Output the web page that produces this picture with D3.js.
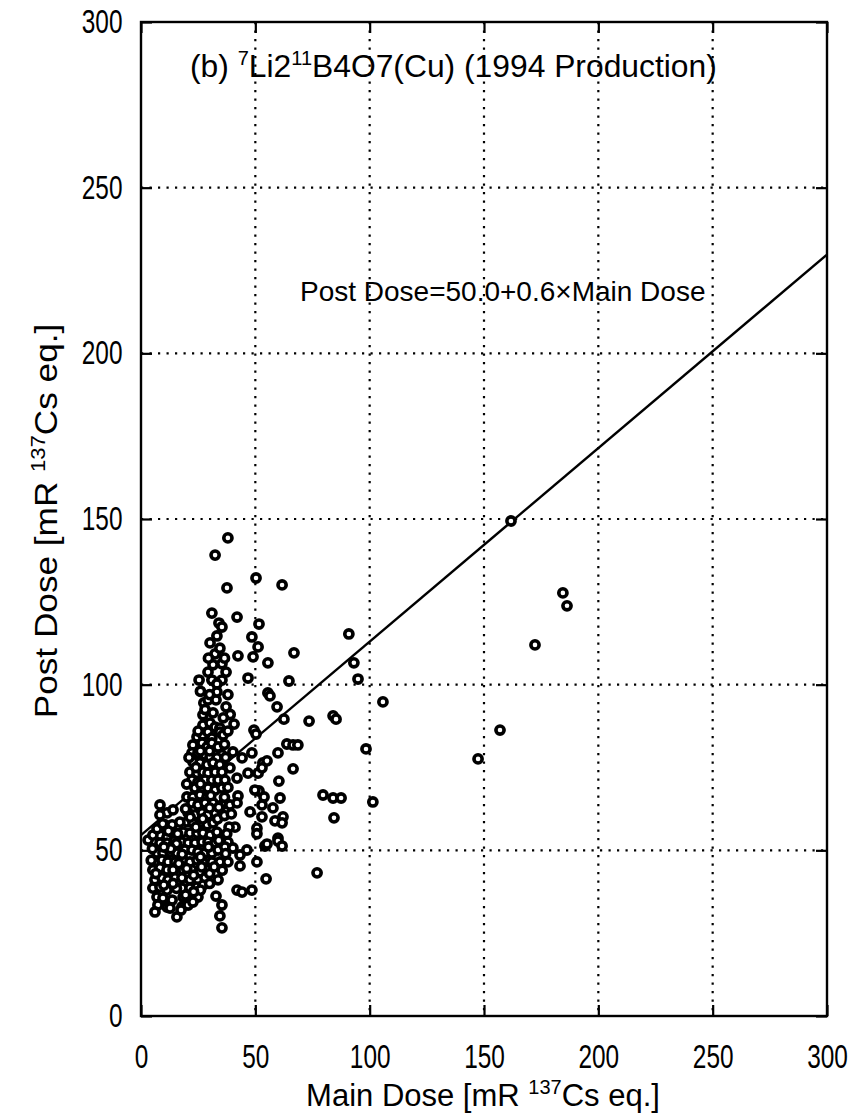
<!DOCTYPE html>
<html><head><meta charset="utf-8">
<script src="https://cdn.jsdelivr.net/npm/d3@7"></script>
<style>
body{margin:0;background:#fff}
svg{display:block}
text{font-family:"Liberation Sans",Arial,sans-serif;fill:#000}
</style>
</head><body>
<svg id="c" width="868" height="1119"></svg>
<script>
const xTicks = [0, 50, 100, 150, 200, 250, 300];
const yTicks = [0, 50, 100, 150, 200, 250, 300];
const fitMain = [0, 300];
const fitPost = [54.6, 229.8];
const equationText = "Post Dose=50.0+0.6\u00D7Main Dose";
// [Main Dose, Post Dose]
const doses = [
[38.0,144.3],[32.4,139.1],[37.6,129.2],[50.3,132.2],[61.7,130.1],[31.0,121.6],[42.0,120.4],[34.1,118.6],[35.4,117.4],[51.6,118.3],
[33.2,114.7],[30.2,112.6],[48.5,114.4],[90.9,115.3],[51.2,111.4],[32.4,109.3],[42.4,108.7],[49.0,108.4],[66.9,109.6],[55.5,106.6],[93.1,106.6],
[31.5,106.0],[35.4,106.3],[29.3,103.8],[37.2,103.8],[31.0,101.4],[35.4,101.4],[33.2,100.2],
[25.4,101.4],[46.8,102.0],[64.7,101.1],[94.9,101.7],[55.5,97.5],[56.4,96.6],[105.8,94.8],
[27.5,94.5],[29.3,95.4],[32.8,95.4],[37.2,93.3],[27.1,90.9],[31.5,91.5],[33.2,97.8],
[59.5,93.3],[62.5,89.6],[73.5,89.0],[84.0,90.6],[85.3,89.6],[40.7,88.1],
[27.1,87.8],[30.2,88.4],[32.4,87.2],[34.5,86.9],[49.4,86.3],[50.3,85.1],
[24.5,84.2],[27.1,84.8],[29.3,85.7],[31.0,83.9],[34.5,85.7],[35.9,84.8],
[63.8,82.1],[66.5,81.8],[68.6,81.8],
[22.7,81.8],[26.7,82.4],[28.9,81.2],[31.0,82.4],[33.7,81.2],
[35.4,78.8],[48.5,79.4],[59.9,79.4],[98.4,80.6],
[22.3,79.4],[24.9,79.4],[28.0,78.8],[30.2,78.2],[33.2,77.9],
[40.2,79.7],[44.2,77.9],[53.3,76.4],[55.1,77.0],
[22.7,76.7],[25.8,76.4],[28.9,75.8],[31.5,76.4],[34.5,75.8],
[38.9,74.9],[51.2,73.3],[52.9,74.9],[66.5,74.6],
[21.4,73.6],[24.5,73.3],[27.1,73.6],[29.3,73.3],[32.4,73.6],[35.4,73.6],
[46.8,73.3],[42.0,71.8],
[22.3,71.2],[24.9,70.6],[28.0,71.2],[31.0,71.2],[33.7,71.2],[36.7,71.2],
[60.3,70.9],
[23.6,68.8],[26.7,68.2],[29.3,68.8],[32.4,68.2],[35.4,68.8],
[51.6,67.9],[53.8,66.1],[79.6,66.7],[42.4,66.4],[84.0,65.8],[87.5,65.8],[60.8,65.8],[101.4,64.6],
[20.1,66.1],[22.7,66.1],[25.8,66.7],[28.9,66.1],
[52.9,63.7],[57.7,62.8],[49.8,68.2],[8.3,63.7],
[22.3,64.3],[24.9,63.7],[28.0,64.3],[31.5,64.3],[35.4,63.7],[38.9,63.7],[42.0,64.3],
[47.7,61.6],[52.9,60.1],[58.6,58.9],[62.1,60.1],[61.7,58.3],[84.4,59.8],
[11.4,61.3],[8.3,60.7],[14.0,62.2],
[20.6,61.3],[23.6,60.7],[26.7,61.3],[29.3,60.7],[32.4,61.3],
[10.5,57.7],[13.6,57.7],
[20.1,58.6],[22.7,58.3],[25.8,58.3],[28.9,57.7],[31.5,58.3],
[41.1,57.0],[50.7,56.7],[50.7,55.0],
[8.3,54.6],[11.4,54.0],[14.0,55.2],
[18.4,55.5],[21.4,55.2],[24.5,55.2],[27.1,55.2],[30.2,54.6],[33.2,55.5],
[59.9,53.7],[3.1,53.1],[5.2,54.6],
[8.3,52.2],[11.4,52.2],[14.0,51.6],
[17.9,52.5],[20.6,52.2],[23.6,52.2],[26.7,52.5],[29.3,52.5],[32.4,52.2],[35.9,53.7],[38.0,52.5],
[54.2,51.3],[55.1,51.9],[59.9,52.8],[61.7,51.3],
[7.0,49.2],[9.6,49.2],[12.7,49.5],[15.7,49.2],
[19.2,50.1],[22.3,50.1],[24.9,49.5],[28.0,49.2],[31.0,49.2],[33.7,50.1],[36.7,51.0],[40.2,50.7],
[46.3,50.1],[43.3,48.6],
[6.1,46.5],[9.2,47.1],[11.8,46.5],[14.9,46.5],
[18.4,47.1],[21.4,46.5],[24.5,47.1],[27.1,46.5],[31.0,46.5],[34.5,46.5],[38.0,46.5],
[50.7,46.5],[43.3,45.3],
[5.2,44.1],[8.3,44.7],[11.4,44.1],[14.0,44.1],
[18.4,44.1],[22.3,44.1],[25.8,43.5],[28.9,44.1],
[77.0,43.2],[54.7,41.4],[33.7,41.1],
[6.1,41.1],[9.2,41.7],[11.8,41.1],[14.9,41.7],
[17.9,41.7],[21.4,41.1],[24.9,41.1],[28.0,41.7],
[5.2,38.6],[8.3,38.9],[11.4,38.0],
[17.9,38.6],[21.4,38.6],[24.5,38.9],[27.1,39.5],
[42.0,38.0],[44.2,37.4],[48.5,38.0],[32.8,36.2],
[7.0,35.9],[9.6,35.6],[13.6,35.0],
[18.4,35.9],[22.3,35.6],[24.9,35.9],
[35.4,33.5],[7.4,33.5],[11.4,32.9],
[17.9,32.9],[20.6,33.5],[22.7,34.4],
[6.1,31.4],[12.7,32.6],[15.7,29.9],[17.5,32.0],[34.5,30.2],[35.4,26.6],
[19.5,62.5],[21.5,60.0],[24.0,57.0],[27.0,59.5],[30.0,62.8],[33.5,59.5],[36.5,60.5],[38.5,57.0],
[16.0,55.0],[17.0,58.5],[15.5,52.0],[13.0,50.5],[10.0,51.0],[16.5,46.0],[20.0,44.5],[23.0,42.5],
[26.5,45.0],[30.0,43.0],[32.0,45.0],[35.5,44.0],[37.0,49.0],[30.0,40.0],[26.0,38.0],[23.0,37.5],
[19.5,36.5],[15.5,38.5],[14.0,40.0],[10.0,39.5],[6.5,43.0],[4.5,47.0],[5.0,50.5],[7.0,56.5],
[9.5,58.0],[12.0,55.8],[18.0,48.8],[26.0,48.0],[29.5,51.0],[34.0,53.0],[37.5,55.0],[39.5,61.0],
[36.5,66.0],[38.0,69.0],[34.0,63.0],[30.5,66.5],[26.0,70.0],[24.0,75.0],[21.0,78.0],[20.0,70.0],
[37.0,78.0],[36.5,82.0],[38.0,86.0],[28.0,92.5],[30.0,97.0],[26.0,98.0],[38.0,97.0],
[39.0,91.0],[36.0,90.0],[30.0,80.0],[26.0,80.0],[25.0,86.0],[29.5,108.0],[34.5,111.0],[36.5,108.0],
[161.8,149.4],[184.5,127.7],[186.3,123.8],[172.3,112.0],[157.0,86.3],[147.4,77.6]
];

const svg = d3.select("#c");
const x = d3.scaleLinear().domain([0, 300]).range([141, 827]);
const y = d3.scaleLinear().domain([0, 300]).range([1016, 22]);

// grid
const grid = svg.append("g").attr("stroke", "#000").attr("stroke-width", 2.2).attr("stroke-dasharray", "2.2,6.3");
grid.selectAll("line.gx").data(xTicks.slice(1, -1)).join("line").attr("class", "gx")
  .attr("x1", d => x(d)).attr("x2", d => x(d)).attr("y1", y(300)).attr("y2", y(0));
grid.selectAll("line.gy").data(yTicks.slice(1, -1)).join("line").attr("class", "gy")
  .attr("y1", d => y(d)).attr("y2", d => y(d)).attr("x1", x(0)).attr("x2", x(300));

// axes
function styleAxis(g) {
  g.select(".domain").remove();
  g.selectAll(".tick line").attr("stroke", "#000").attr("stroke-width", 2.2);
}
svg.append("g").attr("transform", `translate(0,${y(0)})`)
  .call(d3.axisBottom(x).tickValues(xTicks).tickSize(-11).tickPadding(29).tickFormat(d3.format("d")))
  .call(styleAxis)
  .call(g => g.selectAll("text").attr("font-size", 33).attr("font-family", "Liberation Sans, Arial, sans-serif")
     .attr("fill", "#000").attr("transform", "scale(0.74,1)"));
svg.append("g").attr("transform", `translate(0,${y(300)})`)
  .call(d3.axisTop(x).tickValues(xTicks).tickSize(-11).tickFormat(""))
  .call(styleAxis);
svg.append("g").attr("transform", `translate(${x(0)},0)`)
  .call(d3.axisLeft(y).tickValues(yTicks).tickSize(-11).tickPadding(25).tickFormat(d3.format("d")))
  .call(styleAxis)
  .call(g => g.selectAll("text").attr("font-size", 33).attr("font-family", "Liberation Sans, Arial, sans-serif")
     .attr("fill", "#000").attr("transform", "scale(0.74,1)"));
svg.append("g").attr("transform", `translate(${x(300)},0)`)
  .call(d3.axisRight(y).tickValues(yTicks).tickSize(-11).tickFormat(""))
  .call(styleAxis);

// frame
svg.append("rect").attr("x", x(0)).attr("y", y(300)).attr("width", x(300) - x(0)).attr("height", y(0) - y(300))
  .attr("fill", "none").attr("stroke", "#000").attr("stroke-width", 2.4);

// fit line
svg.append("line").attr("x1", x(fitMain[0])).attr("y1", y(fitPost[0])).attr("x2", x(fitMain[1])).attr("y2", y(fitPost[1]))
  .attr("stroke", "#000").attr("stroke-width", 2.4);

// points
svg.append("g").selectAll("circle").data(doses).join("circle")
  .attr("cx", d => x(d[0])).attr("cy", d => y(d[1])).attr("r", 4.1)
  .attr("fill", "#fff").attr("stroke", "#000").attr("stroke-width", 3.6);

// title
const t = svg.append("text").attr("x", 190).attr("y", 77).attr("font-size", 31.8);
t.append("tspan").text("(b) ");
t.append("tspan").attr("font-size", 20).attr("dy", -12).text("7");
t.append("tspan").attr("dy", 12).text("Li2");
t.append("tspan").attr("font-size", 20).attr("dy", -12).text("11");
t.append("tspan").attr("dy", 12).text("B4O7(Cu) (1994 Production)");

// equation
svg.append("text").attr("x", 300).attr("y", 301).attr("font-size", 28).text(equationText);

// x label
const xl = svg.append("text").attr("x", 483).attr("y", 1106).attr("text-anchor", "middle").attr("font-size", 31);
xl.append("tspan").text("Main Dose [mR ");
xl.append("tspan").attr("font-size", 20).attr("dy", -12).text("137");
xl.append("tspan").attr("dy", 12).text("Cs eq.]");

// y label
const yl = svg.append("text").attr("transform", "translate(57,521) rotate(-90) scale(1.1,1)")
  .attr("text-anchor", "middle").attr("font-size", 32);
yl.append("tspan").text("Post Dose [mR ");
yl.append("tspan").attr("font-size", 20).attr("dy", -12).text("137");
yl.append("tspan").attr("dy", 12).text("Cs eq.]");
</script>
</body></html>
